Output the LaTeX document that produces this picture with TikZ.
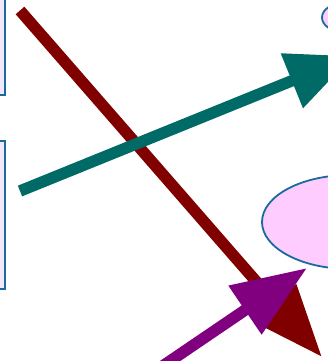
\documentclass[tikz,border=0pt]{standalone}
\usetikzlibrary{arrows.meta}
\definecolor{boxfill}{HTML}{F2E6FA}
\definecolor{edgeblue}{HTML}{1A6A9E}
\definecolor{pinkfill}{HTML}{FFCCFF}
\definecolor{darkred}{HTML}{800000}
\definecolor{tealc}{HTML}{006A66}
\definecolor{purplec}{HTML}{800080}
\tikzset{
  shapebox/.style={draw=edgeblue, fill=boxfill, line width=1.8pt},
  blob/.style={draw=edgeblue, fill=pinkfill, line width=1.8pt},
  bigarrow/.style={line width=11.5pt}
}
\begin{document}
\begin{tikzpicture}[x=1pt,y=-1pt]
\useasboundingbox (0,0) rectangle (328,361);
\begin{scope}
\clip (0,0) rectangle (328,361);
\draw[shapebox] (-40,-20) rectangle (5,95);
\draw[shapebox] (-40,141) rectangle (5,289);
\draw[blob] (342,17.5) ellipse [x radius=20, y radius=14];
\draw[blob] (350,222) ellipse [x radius=88, y radius=47];
\coordinate (r0) at (20,10.5);
\coordinate (r1) at (322,357);
\coordinate (t0) at (20,191);
\coordinate (t1) at (353,56);
\coordinate (p0) at (149.5,375);
\coordinate (p1) at (307,268);
\draw[bigarrow, darkred, -{Triangle[length=72pt,width=54pt]}] (r0) -- (r1);
\draw[bigarrow, tealc, -{Triangle[length=66pt,width=56pt]}] (t0) -- (t1);
\draw[bigarrow, purplec, -{Triangle[length=75pt,width=56pt]}] (p0) -- (p1);
\end{scope}
\end{tikzpicture}
\end{document}
